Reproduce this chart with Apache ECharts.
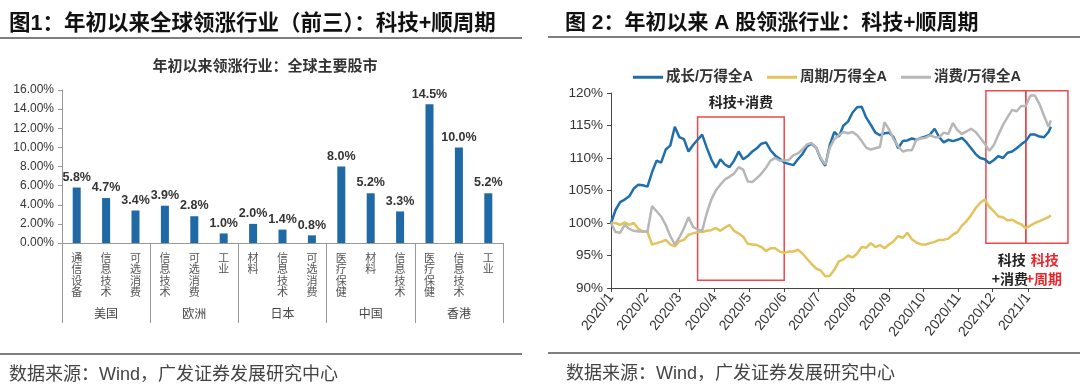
<!DOCTYPE html>
<html><head><meta charset="utf-8">
<script src="https://cdn.jsdelivr.net/npm/echarts@6/dist/echarts.min.js"></script>
<style>html,body{margin:0;padding:0;background:#fff}#c{width:1080px;height:386px}</style>
</head><body><div id="c"></div>
<script>
// ---------- Left chart data ----------
const barCategories = ['通信设备','信息技术','可选消费','信息技术','可选消费','工业','材料','信息技术','可选消费','医疗保健','材料','信息技术','医疗保健','信息技术','工业'];
const barGroups = ['美国','欧洲','日本','中国','香港'];
const barValues = [5.8,4.7,3.4,3.9,2.8,1.0,2.0,1.4,0.8,8.0,5.2,3.3,14.5,10.0,5.2];

// ---------- Right chart data ----------
const seriesNames = ['成长/万得全A','周期/万得全A','消费/万得全A'];
const lineDates = [
'2020-01-01','2020-01-05','2020-01-09','2020-01-13','2020-01-17','2020-01-21','2020-01-25','2020-01-29',
'2020-02-02','2020-02-06','2020-02-10','2020-02-14','2020-02-18','2020-02-22','2020-02-26',
'2020-03-01','2020-03-05','2020-03-09','2020-03-13','2020-03-17','2020-03-21','2020-03-25','2020-03-29',
'2020-04-02','2020-04-06','2020-04-10','2020-04-14','2020-04-18','2020-04-22','2020-04-26','2020-04-30',
'2020-05-04','2020-05-08','2020-05-12','2020-05-16','2020-05-20','2020-05-24','2020-05-28',
'2020-06-01','2020-06-05','2020-06-09','2020-06-13','2020-06-17','2020-06-21','2020-06-25','2020-06-29',
'2020-07-03','2020-07-07','2020-07-11','2020-07-15','2020-07-19','2020-07-23','2020-07-27','2020-07-31',
'2020-08-04','2020-08-08','2020-08-12','2020-08-16','2020-08-20','2020-08-24','2020-08-28',
'2020-09-01','2020-09-05','2020-09-09','2020-09-13','2020-09-17','2020-09-21','2020-09-25','2020-09-29',
'2020-10-03','2020-10-07','2020-10-11','2020-10-15','2020-10-19','2020-10-23','2020-10-27','2020-10-31',
'2020-11-04','2020-11-08','2020-11-12','2020-11-16','2020-11-20','2020-11-24','2020-11-28',
'2020-12-02','2020-12-06','2020-12-10','2020-12-14','2020-12-18','2020-12-22','2020-12-26','2020-12-30',
'2021-01-03','2021-01-07','2021-01-11','2021-01-15','2021-01-19','2021-01-21'];
const growthValues = [
100.0,102.0,103.2,103.6,104.1,105.3,105.9,105.8,
105.6,107.8,109.6,109.3,111.3,111.9,114.8,
113.2,112.9,111.0,112.0,112.8,113.6,111.6,109.8,
108.5,109.8,109.0,108.6,109.6,111.0,109.8,110.3,
111.0,111.5,112.2,112.4,111.2,110.4,109.9,
109.3,109.1,108.9,109.8,110.6,111.8,112.2,111.6,
109.9,108.8,112.0,114.0,113.3,115.0,115.6,117.0,
117.8,117.9,116.2,115.1,113.9,113.5,113.8,
113.9,113.2,111.5,112.6,112.7,113.0,112.8,113.1,
113.3,113.6,114.5,113.2,112.4,112.8,112.6,112.8,
113.1,112.4,111.5,110.6,110.0,109.8,109.2,
109.7,110.3,110.0,110.8,111.0,111.5,112.1,112.6,
113.6,113.6,113.3,113.2,114.0,114.8];
const cyclicalValues = [
100.0,100.0,99.7,100.1,99.7,100.0,99.1,98.7,
98.6,96.7,96.9,97.1,97.4,96.7,96.4,
97.2,97.4,98.2,98.4,98.6,98.6,98.8,98.9,
99.2,98.8,99.3,99.7,98.8,98.4,97.9,96.8,
96.7,96.6,96.3,95.7,96.1,96.1,95.6,
95.4,95.6,95.6,95.9,95.3,94.5,93.7,93.0,
92.7,91.8,91.9,92.8,94.1,94.4,95.0,94.7,
95.3,96.3,96.2,96.9,96.3,96.6,96.1,
96.7,97.2,98.0,97.7,98.5,97.5,97.0,96.7,
96.7,96.9,97.1,97.4,97.4,97.6,98.2,98.6,
99.6,100.3,101.2,102.3,103.1,103.6,102.5,
101.8,101.0,100.9,100.4,100.5,100.1,99.8,99.2,
99.6,100.0,100.3,100.6,100.9,101.2];
const consumerValues = [
100.0,98.6,98.5,99.7,99.1,98.8,98.7,98.7,
98.7,102.6,101.8,101.0,99.7,98.0,96.7,
97.8,99.2,100.9,99.4,99.0,98.8,101.5,103.6,
105.0,105.9,106.7,107.1,107.6,108.6,108.2,106.4,
106.3,106.9,107.6,108.5,109.6,110.0,109.6,
109.6,109.7,110.4,110.7,111.3,112.1,112.3,111.6,
110.0,109.0,111.6,112.9,113.5,114.0,113.8,114.0,
113.5,112.6,111.6,111.3,111.5,111.7,115.5,
114.4,112.9,111.8,111.0,111.2,111.2,112.8,113.0,
113.1,113.5,113.2,113.2,113.9,113.7,115.4,114.3,
113.7,114.1,114.5,114.0,113.1,112.2,111.1,
112.0,113.6,115.1,116.3,117.4,117.2,118.0,118.0,
119.6,119.6,118.3,116.5,114.8,115.8];

// annotation boxes: [start date, end date, top %, bottom %]
const boxes = [
  ['2020-03-17','2020-06-01',116.3,91.2],
  ['2020-11-25','2020-12-30',120.35,96.9],
  ['2020-12-30','2021-02-05',120.35,96.9]
];

function ts(s){const p=s.split('-').map(Number);return new Date(p[0],p[1]-1,p[2]).getTime();}
const FONT = '"Liberation Sans","Noto Sans CJK SC",sans-serif';
const CJK = '"Noto Sans CJK SC",sans-serif';

const chart = echarts.init(document.getElementById('c'), null, {renderer:'canvas'});
const option = {
  animation:false,
  textStyle:{fontFamily:FONT},
  title:[
    {text:'图1：年初以来全球领涨行业（前三）：科技+顺周期',left:4,top:8,textStyle:{fontFamily:FONT,fontSize:21.5,fontWeight:'bold',color:'#111'}},
    {text:'图 2：年初以来 A 股领涨行业：科技+顺周期',left:560,top:8,textStyle:{fontFamily:FONT,fontSize:21,fontWeight:'bold',color:'#111'}},
    {text:'年初以来领涨行业：全球主要股市',left:260,textAlign:'center',top:53,textStyle:{fontFamily:CJK,fontSize:15,fontWeight:'bold',color:'#333'}},
    {text:'数据来源：Wind，广发证券发展研究中心',left:4,top:361,textStyle:{fontFamily:FONT,fontSize:18,fontWeight:'normal',color:'#444'}},
    {text:'数据来源：Wind，广发证券发展研究中心',left:561,top:360,textStyle:{fontFamily:FONT,fontSize:18,fontWeight:'normal',color:'#444'}}
  ],
  legend:{
    data:seriesNames,left:628,top:65,icon:'rect',itemWidth:30,itemHeight:3,itemGap:14,
    textStyle:{fontFamily:FONT,fontSize:14.5,fontWeight:'bold',color:'#333',padding:[0,0,0,-2]}
  },
  grid:[
    {left:62,right:577,top:90,height:153},
    {left:611,right:28,top:93,height:195}
  ],
  xAxis:[
    {type:'category',gridIndex:0,data:barCategories,
     axisLine:{lineStyle:{color:'#999'}},axisTick:{show:false},
     axisLabel:{interval:0,margin:9,fontFamily:CJK,fontSize:11,lineHeight:11.5,color:'#555',
       formatter:v=>v.split('').join('\n')}},
    {type:'category',gridIndex:0,data:barGroups,position:'bottom',
     axisLine:{show:false},axisTick:{show:true,interval:0,length:80,lineStyle:{color:'#999'}},
     axisLabel:{interval:0,margin:64,fontFamily:CJK,fontSize:12,color:'#444'}},
    {type:'time',gridIndex:1,min:ts('2020-01-01'),max:ts('2021-01-22'),splitNumber:13,
     minInterval:28*864e5,maxInterval:31*864e5,
     axisLine:{lineStyle:{color:'#444'}},axisTick:{show:true,length:4,lineStyle:{color:'#444'}},
     splitLine:{show:false},
     axisLabel:{rotate:52,fontSize:14,color:'#333',margin:7,showMaxLabel:false,
       formatter:function(v){const d=new Date(v);return d.getFullYear()+'/'+(d.getMonth()+1);}}}
  ],
  yAxis:[
    {type:'value',gridIndex:0,min:0,max:16,interval:2,
     axisLine:{show:true,lineStyle:{color:'#999'}},axisTick:{show:true,length:4,lineStyle:{color:'#999'}},
     splitLine:{show:false},
     axisLabel:{fontSize:12,color:'#333',margin:8,formatter:v=>v.toFixed(2)+'%'}},
    {type:'value',gridIndex:1,min:90,max:120,interval:5,
     axisLine:{show:true,lineStyle:{color:'#444'}},axisTick:{show:true,length:4,lineStyle:{color:'#444'}},
     splitLine:{show:false},
     axisLabel:{fontSize:13.5,color:'#333',margin:8,formatter:v=>v+'%'}}
  ],
  series:[
    {type:'bar',xAxisIndex:0,yAxisIndex:0,data:barValues,barWidth:8,
     itemStyle:{color:'#1f69a6'},
     label:{show:true,position:'top',distance:4,fontSize:12.5,fontWeight:'bold',color:'#333',
       fontFamily:FONT,formatter:p=>p.value.toFixed(1)+'%'}},
    {type:'line',name:seriesNames[0],xAxisIndex:2,yAxisIndex:1,showSymbol:false,symbol:'none',
     data:lineDates.map((d,i)=>[ts(d),growthValues[i]]),lineStyle:{color:'#1f6fad',width:2.5},itemStyle:{color:'#1f6fad'}},
    {type:'line',name:seriesNames[1],xAxisIndex:2,yAxisIndex:1,showSymbol:false,symbol:'none',
     data:lineDates.map((d,i)=>[ts(d),cyclicalValues[i]]),lineStyle:{color:'#e2c35c',width:2.5},itemStyle:{color:'#e2c35c'}},
    {type:'line',name:seriesNames[2],xAxisIndex:2,yAxisIndex:1,showSymbol:false,symbol:'none',
     data:lineDates.map((d,i)=>[ts(d),consumerValues[i]]),lineStyle:{color:'#b7b7b7',width:2.5},itemStyle:{color:'#b7b7b7'}}
  ]
};
chart.setOption(option);

// decorations & annotations
const g = [];
const RULE = '#555';
g.push({type:'line',shape:{x1:0,y1:38,x2:522,y2:38},style:{stroke:RULE,lineWidth:1.5},silent:true});
g.push({type:'line',shape:{x1:548,y1:37,x2:1080,y2:37},style:{stroke:RULE,lineWidth:1.5},silent:true});
g.push({type:'line',shape:{x1:0,y1:354,x2:522,y2:354},style:{stroke:RULE,lineWidth:1.5},silent:true});
g.push({type:'line',shape:{x1:548,y1:353,x2:1080,y2:353},style:{stroke:RULE,lineWidth:1.5},silent:true});
const px = boxes.map(b=>{
  const a = chart.convertToPixel({gridIndex:1},[ts(b[0]),b[2]]);
  const c = chart.convertToPixel({gridIndex:1},[ts(b[1]),b[3]]);
  return [a[0],a[1],c[0],c[1]];
});
px.forEach(r=>g.push({type:'rect',shape:{x:r[0],y:r[1],width:r[2]-r[0],height:r[3]-r[1]},
  style:{fill:null,stroke:'#e84a4d',lineWidth:1.5},silent:true}));
const tf = (t,x,y,col)=>({type:'text',x:x,y:y,style:{text:t,fill:col,font:'bold 14px '+CJK,textAlign:'center',textVerticalAlign:'middle'},silent:true});
g.push(tf('科技+消费',(px[0][0]+px[0][2])/2,px[0][1]-15,'#222'));
g.push(tf('科技',(px[1][0]+px[1][2])/2+6,px[1][3]+17,'#222'));
g.push(tf('+消费',(px[1][0]+px[1][2])/2+4,px[1][3]+36,'#222'));
g.push(tf('科技',(px[2][0]+px[2][2])/2-2,px[2][3]+17,'#e8262b'));
g.push(tf('+周期',(px[2][0]+px[2][2])/2-3,px[2][3]+36,'#e8262b'));
chart.setOption({graphic:g});
</script></body></html>
